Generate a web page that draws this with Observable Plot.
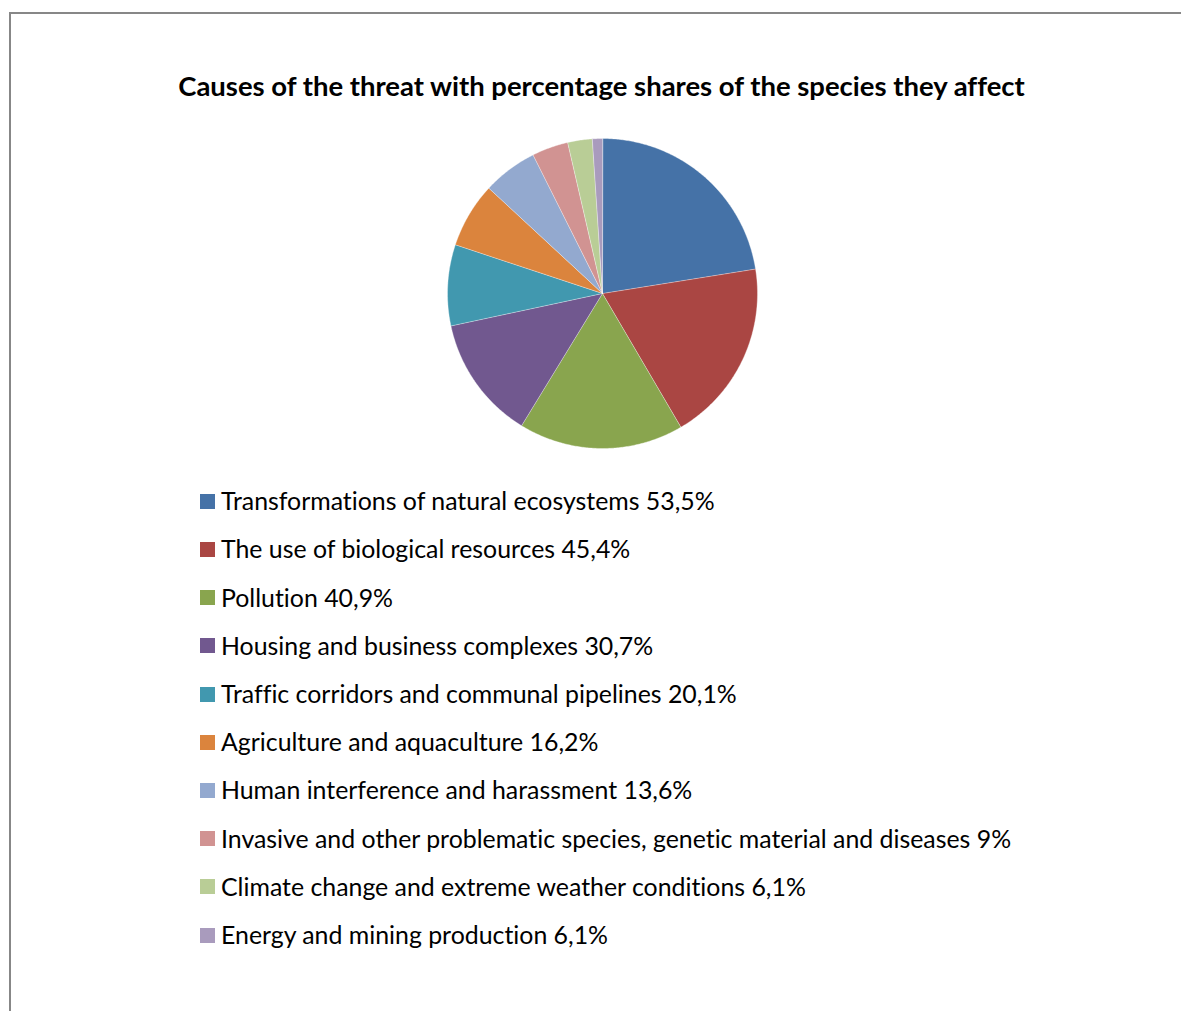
<!DOCTYPE html>
<html>
<head>
<meta charset="utf-8">
<script src="https://cdn.jsdelivr.net/npm/d3@7"></script>
<script src="https://cdn.jsdelivr.net/npm/@observablehq/plot@0.6"></script>
<style>
  html, body { margin: 0; padding: 0; background: #fff; }
  body { width: 1181px; height: 1011px; overflow: hidden; position: relative; font-family: Lato, "Open Sans", sans-serif; color: #000; font-variant-ligatures: none; font-feature-settings: "liga" 0, "clig" 0; }
  #frame { position: absolute; left: 9px; top: 12px; width: 1300px; height: 1100px; border-left: 2px solid #878787; border-top: 2px solid #878787; }
  #title { position: absolute; left: 0; width: 1203px; text-align: center; font-weight: bold; white-space: nowrap; }
  #pie { position: absolute; left: 0; top: 128px; }
  .sw { position: absolute; left: 200px; width: 15px; height: 15px; }
  .lab { position: absolute; left: 221px; white-space: nowrap; }
</style>
</head>
<body>
<div id="frame"></div>
<div id="title">Causes of the threat with percentage shares of the species they affect</div>
<div id="pie"></div>
<div id="legend"></div>
<script>
const categories = [
  "Transformations of natural ecosystems",
  "The use of biological resources",
  "Pollution",
  "Housing and business complexes",
  "Traffic corridors and communal pipelines",
  "Agriculture and aquaculture",
  "Human interference and harassment",
  "Invasive and other problematic species, genetic material and diseases",
  "Climate change and extreme weather conditions",
  "Energy and mining production"
];
// percentages printed in the legend
const shareLabels = ["53,5%", "45,4%", "40,9%", "30,7%", "20,1%", "16,2%", "13,6%", "9%", "6,1%", "6,1%"];
// slice sizes as drawn in the pie
const sliceValues = [53.5, 45.4, 40.9, 30.7, 20.1, 16.2, 13.6, 9, 6.1, 2.5];
const colors = ["#4572A7", "#AA4643", "#89A54E", "#71588F", "#4198AF", "#DB843D", "#93A9CF", "#D19392", "#B9CD96", "#A99BBD"];

// ---- pie via Plot, arcs computed from the data
const arcs = d3.pie().sort(null).startAngle(0).endAngle(2 * Math.PI)(sliceValues);
const pts = [];
arcs.forEach((a, i) => {
  const cat = categories[i];
  pts.push({cat, x: 0, y: 0});
  const n = Math.max(2, Math.ceil((a.endAngle - a.startAngle) / (Math.PI / 360)));
  for (let k = 0; k <= n; k++) {
    const t = a.startAngle + (a.endAngle - a.startAngle) * k / n;
    pts.push({cat, x: Math.sin(t), y: Math.cos(t)});
  }
});

const chart = Plot.plot({
  width: 1181,
  height: 330,
  marginLeft: 447,
  marginRight: 424,
  marginTop: 10,
  marginBottom: 10,
  x: {domain: [-1, 1], axis: null},
  y: {domain: [-1, 1], axis: null},
  color: {domain: categories, range: colors},
  marks: [
    Plot.line(pts, {x: "x", y: "y", z: "cat", fill: "cat", stroke: "white", strokeWidth: 0.5, strokeOpacity: 0.7, curve: "linear-closed"})
  ]
});
document.getElementById("pie").appendChild(chart);

// ---- title, fitted to the reference width
function fit(el, base, target) {
  el.style.fontSize = base + "px";
  el.style.display = "inline-block";
  const w = el.getBoundingClientRect().width;
  return base * target / w;
}
const CAPMID = 0.529; // cap-centre offset from top of a line box with line-height = font-size (Lato)

const title = document.getElementById("title");
const tmp = document.createElement("span");
tmp.style.fontWeight = "bold";
tmp.style.whiteSpace = "nowrap";
tmp.style.position = "absolute";
tmp.textContent = title.textContent;
document.body.appendChild(tmp);
const tf = fit(tmp, 20, 847);
tmp.remove();
title.style.fontSize = tf + "px";
title.style.lineHeight = tf + "px";
title.style.top = (87 - CAPMID * tf) + "px";

// ---- legend
const legend = document.getElementById("legend");
const labels = categories.map((c, i) => c + " " + shareLabels[i]);
const probe = document.createElement("span");
probe.className = "lab";
probe.textContent = labels[0];
document.body.appendChild(probe);
const lf = fit(probe, 20, 494);
probe.remove();
labels.forEach((t, i) => {
  const cy = 501.3 + i * 48.2;
  const sw = document.createElement("div");
  sw.className = "sw";
  sw.style.top = (cy - 7.5) + "px";
  sw.style.background = colors[i];
  legend.appendChild(sw);
  const lab = document.createElement("div");
  lab.className = "lab";
  lab.textContent = t;
  lab.style.fontSize = lf + "px";
  lab.style.lineHeight = lf + "px";
  lab.style.top = (cy - CAPMID * lf) + "px";
  legend.appendChild(lab);
});
</script>
</body>
</html>
